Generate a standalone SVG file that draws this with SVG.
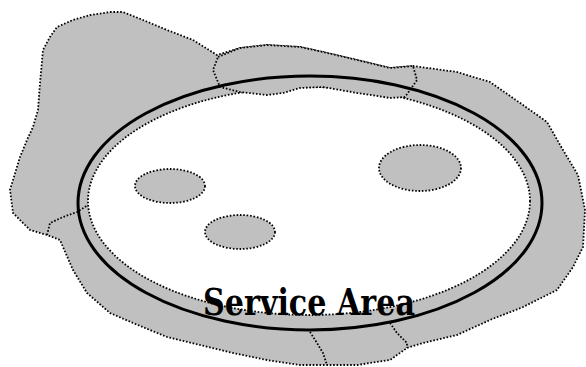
<svg xmlns="http://www.w3.org/2000/svg" width="586" height="367" viewBox="0 0 586 367">
<style>
.dot{stroke:#000;stroke-width:1.8;stroke-dasharray:1.6 1.8;stroke-linejoin:round;stroke-linecap:butt}
.gray{fill:#c0c0c0}
.none{fill:none}
.lbl{font-family:"DejaVu Serif","Liberation Serif",serif;font-weight:bold;font-size:37px;fill:#000}
</style>
<rect width="586" height="367" fill="#fff"/>
<g id="coverage">
<path class="gray dot" d="M110,12 L123,12 L143,20 L167,30 L193,40 L217,55 L240,48 L267,45 L300,47 L323,52 L357,60 L390,68 L413,66 L457,72 L490,82 L523,105 L547,122 L563,150 L578,175 L585,210 L583,247 L573,267 L557,290 L523,307 L490,320 L457,335 L423,343 L407,348 L390,360 L357,365 L327,365 L300,365 L267,360 L233,353 L200,345 L167,337 L133,323 L110,313 L87,293 L73,270 L63,247 L60,240 L47,235 L30,230 L13,213 L10,190 L20,157 L27,140 L33,127 L38,110 L40,83 L43,50 L50,37 L57,27 L73,20 L90,15 Z"/>
</g>
<g id="service-interior">
<ellipse class="dot" cx="309" cy="201" rx="221" ry="114" fill="#fff"/>
</g>
<g id="top-cell">
<path class="gray dot" d="M218,57 L240,48 L267,45 L300,47 L323,52 L357,60 L390,68 L413,66 L417,80 L410,90 L405,97 L390,98 L357,93 L323,87 L300,88 L283,93 L267,95 L240,92 L220,87 L213,70 Z"/>
</g>
<g id="service-boundary">
<ellipse cx="310" cy="203" rx="232" ry="127" fill="none" stroke="#000" stroke-width="3"/>
</g>
<g id="cell-a"><ellipse class="gray dot" cx="170" cy="186" rx="35" ry="17"/></g>
<g id="cell-b"><ellipse class="gray dot" cx="240" cy="232" rx="35" ry="17"/></g>
<g id="cell-c"><ellipse class="gray dot" cx="420" cy="168" rx="41" ry="23"/></g>
<g id="connectors">
<polyline class="none dot" points="47,235 50,223 63,217 77,212 88,205"/>
<polyline class="none dot" points="310,332 317,343 323,353 327,365"/>
<polyline class="none dot" points="390,323 397,333 407,343 407,348"/>
</g>
<g id="label">
<text class="lbl" x="203" y="315" textLength="212" lengthAdjust="spacingAndGlyphs">Service Area</text>
</g>
</svg>
